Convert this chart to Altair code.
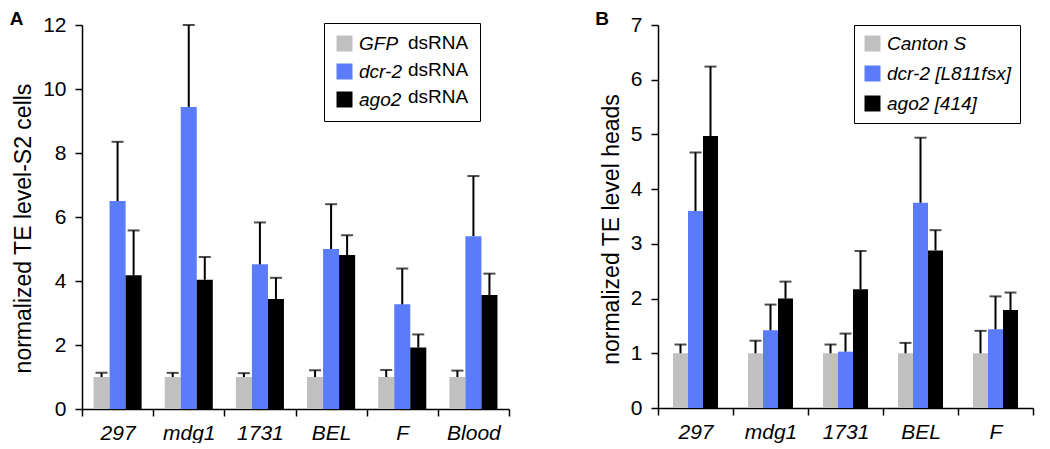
import altair as alt
import pandas as pd

# ---------------- data: panel A (S2 cells) ----------------
te_a = ["297", "mdg1", "1731", "BEL", "F", "Blood"]
grp_a = ["GFP", "dcr-2", "ago2"]
gfp_a = [1.0, 1.0, 1.0, 1.0, 1.0, 1.0]
gfp_a_sd = [0.13, 0.13, 0.12, 0.21, 0.22, 0.20]
dcr2_a = [6.5, 9.44, 4.52, 5.0, 3.27, 5.4]
dcr2_a_sd = [1.85, 2.56, 1.31, 1.4, 1.12, 1.88]
ago2_a = [4.18, 4.04, 3.44, 4.81, 1.92, 3.56]
ago2_a_sd = [1.4, 0.71, 0.66, 0.62, 0.41, 0.67]

# ---------------- data: panel B (heads) ----------------
te_b = ["297", "mdg1", "1731", "BEL", "F"]
grp_b = ["Canton S", "dcr-2 [L811fsx]", "ago2 [414]"]
canton_b = [1.0, 1.0, 1.0, 1.0, 1.0]
canton_b_sd = [0.16, 0.23, 0.16, 0.19, 0.41]
dcr2_b = [3.6, 1.42, 1.03, 3.75, 1.44]
dcr2_b_sd = [1.07, 0.47, 0.33, 1.19, 0.6]
ago2_b = [4.97, 2.0, 2.17, 2.88, 1.79]
ago2_b_sd = [1.27, 0.31, 0.7, 0.37, 0.32]

colors = ["#C0C0C0", "#5A7BFA", "#000000"]
FONT = "Liberation Sans"


def frame(tes, groups, series, sds):
    rows = []
    for g, vals, errs in zip(groups, series, sds):
        for t, v, e in zip(tes, vals, errs):
            rows.append({"te": t, "grp": g, "val": v, "top": v + e})
    return pd.DataFrame(rows)


df_a = frame(te_a, grp_a, [gfp_a, dcr2_a, ago2_a], [gfp_a_sd, dcr2_a_sd, ago2_a_sd])
df_b = frame(te_b, grp_b, [canton_b, dcr2_b, ago2_b], [canton_b_sd, dcr2_b_sd, ago2_b_sd])


def panel(df, tes, groups, ymax, ystep, ytitle, legend, width, height, off_pad, letter,
          tdx, title_y):
    x = alt.X("te:N", sort=tes, title=None,
              scale=alt.Scale(paddingInner=0, paddingOuter=0),
              axis=alt.Axis(labelAngle=0, labelFontStyle="italic", tickBand="extent",
                            labelPadding=6, ticks=True))
    xo = alt.XOffset("grp:N", sort=groups,
                     scale=alt.Scale(paddingInner=0, paddingOuter=off_pad))
    y = alt.Y("val:Q", title=ytitle,
              scale=alt.Scale(domain=[0, ymax], nice=False, zero=True),
              axis=alt.Axis(values=list(range(0, ymax + 1, ystep)), format="d",
                            titlePadding=7, labelPadding=9, titleY=title_y))
    bars = alt.Chart(df).mark_bar(strokeWidth=0).encode(
        x=x, xOffset=xo, y=y,
        color=alt.Color("grp:N", scale=alt.Scale(domain=groups, range=colors),
                        sort=groups, legend=legend),
    )
    err = alt.Chart(df).mark_rule(color="black", strokeWidth=2).encode(
        x=x, xOffset=xo, y="val:Q", y2="top:Q")
    cap = alt.Chart(df).mark_tick(color="black", thickness=2, size=12).encode(
        x=x, xOffset=xo, y="top:Q")
    return alt.layer(bars, err, cap).properties(
        width=width, height=height,
        title=alt.TitleParams(letter, anchor="start", frame="bounds", fontSize=19,
                              fontWeight="bold", font=FONT, color="black",
                              offset=-15, dx=tdx),
    )


leg_common = dict(
    orient="none", symbolType="square", symbolSize=256, symbolStrokeWidth=0,
    labelFontSize=19, labelFont=FONT, labelFontStyle="italic", labelColor="black",
    strokeColor="black", labelOffset=5,
)

legend_a = alt.Legend(
    title=["dsRNA", "dsRNA", "dsRNA"], titleOrient="right", titleFontSize=19,
    titleFont=FONT, titleFontWeight="normal", titleColor="black",
    titleLineHeight=27, titlePadding=6, titleBaseline="top", titleAnchor="start",
    padding=11, rowPadding=8, legendX=242, legendY=-2, **leg_common)
legend_b = alt.Legend(title=None, padding=9, rowPadding=10, legendX=196, legendY=0,
                      **leg_common)

chart_a = panel(df_a, te_a, grp_a, 12, 2, "normalized TE level-S2 cells", legend_a,
                427, 384, 0.72, "A", -3, 203)
chart_b = panel(df_b, te_b, grp_b, 7, 1, "normalized TE level heads", legend_b,
                375, 383, 1.0, "B", -5, 204)

chart = alt.hconcat(chart_a, chart_b, spacing=85).resolve_scale(
    color="independent", x="independent", y="independent", xOffset="independent"
).properties(
    padding={"left": 1, "top": 2, "right": 4, "bottom": 0}
).configure_view(stroke=None).configure_axis(
    grid=False, domainColor="black", domainWidth=1.5, tickColor="black", tickWidth=1.5,
    tickSize=7, labelFont=FONT, labelFontSize=21, labelColor="black",
    titleFont=FONT, titleFontSize=23, titleFontWeight="normal", titleColor="black",
)

chart.save("out.html", embed_options={"renderer": "svg", "actions": False})
